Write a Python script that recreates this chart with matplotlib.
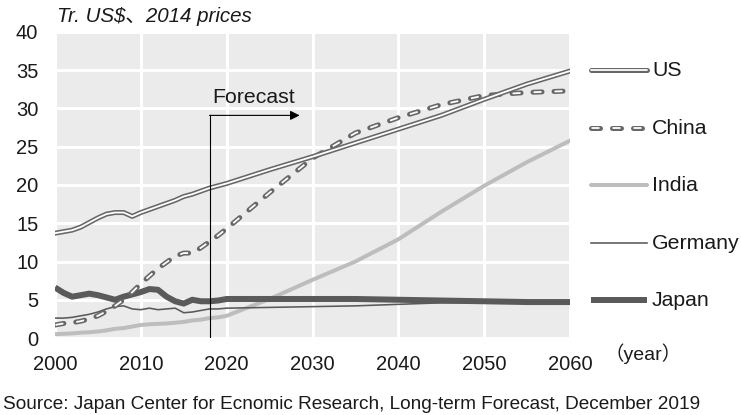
import matplotlib
matplotlib.use("Agg")
import matplotlib.pyplot as plt
from matplotlib.lines import Line2D

plt.rcParams['font.family'] = ['Liberation Sans', 'Noto Sans CJK JP', 'DejaVu Sans']
plt.rcParams['lines.scale_dashes'] = False

# ---- data (trillion US$, 2014 prices) ----
years = list(range(2000, 2021)) + [2025, 2030, 2035, 2040, 2045, 2050, 2055, 2060]

us = [13.7, 13.9, 14.1, 14.5, 15.1, 15.7, 16.2, 16.4, 16.4, 15.9, 16.4,
      16.8, 17.2, 17.6, 18.0, 18.5, 18.8, 19.2, 19.6, 19.9, 20.2,
      22.0, 23.7, 25.5, 27.3, 29.1, 31.2, 33.2, 34.9]
china = [1.7, 1.9, 2.0, 2.2, 2.5, 2.9, 3.5, 4.2, 5.0, 6.0, 7.1,
         8.1, 9.1, 9.9, 10.7, 11.1, 11.1, 11.8, 12.6, 13.4, 14.3,
         19.0, 23.5, 26.8, 28.8, 30.5, 31.7, 32.1, 32.3]
india = [0.5, 0.55, 0.6, 0.7, 0.75, 0.85, 1.0, 1.2, 1.3, 1.5, 1.7,
         1.8, 1.85, 1.9, 2.0, 2.1, 2.3, 2.4, 2.6, 2.7, 2.9,
         5.1, 7.6, 10.0, 12.9, 16.5, 19.9, 23.0, 25.8]
germany = [2.6, 2.6, 2.7, 2.9, 3.1, 3.4, 3.8, 4.1, 4.2, 3.8, 3.7,
           3.9, 3.7, 3.8, 3.9, 3.3, 3.4, 3.6, 3.8, 3.8, 3.9,
           4.0, 4.1, 4.2, 4.4, 4.6, 4.6, 4.6, 4.6]
japan = [6.6, 5.9, 5.4, 5.6, 5.8, 5.6, 5.3, 5.0, 5.4, 5.7, 6.0,
         6.4, 6.3, 5.4, 4.8, 4.5, 5.0, 4.8, 4.8, 4.9, 5.1,
         5.1, 5.1, 5.1, 5.0, 4.9, 4.8, 4.7, 4.7]

series_names = ['US', 'China', 'India', 'Germany', 'Japan']
x_ticks = [2000, 2010, 2020, 2030, 2040, 2050, 2060]
y_ticks = [0, 5, 10, 15, 20, 25, 30, 35, 40]
forecast_year = 2018
forecast_top = 29.1
forecast_arrow_end = 2028.5

W, H = 741, 415
PX = 0.72  # points per pixel at dpi 100

DARK = '#5a5a5a'
OUTLINE = '#676767'
LIGHT = '#bdbdbd'
TEXT = '#1a1a1a'

# style for each series: list of layers drawn in order
styles = {
    'US': [dict(color=OUTLINE, lw=5 * PX, solid_capstyle='round'),
           dict(color='white', lw=1.8 * PX, solid_capstyle='round')],
    'China': [dict(color=OUTLINE, lw=5 * PX, dash_capstyle='round',
                   linestyle=(0, (9 * PX, 12 * PX))),
              dict(color='white', lw=1.8 * PX, dash_capstyle='butt',
                   linestyle=(20.5 * PX, (8 * PX, 13 * PX)))],
    'India': [dict(color=LIGHT, lw=4 * PX, solid_capstyle='round')],
    'Germany': [dict(color=DARK, lw=1.6 * PX)],
    'Japan': [dict(color=DARK, lw=6 * PX, solid_capstyle='butt')],
}
values = {'US': us, 'China': china, 'India': india,
          'Germany': germany, 'Japan': japan}

fig = plt.figure(figsize=(W / 100, H / 100), dpi=100)
ax = fig.add_axes([55 / W, 1 - 338 / H, (570 - 55) / W, (338 - 32) / H])
ax.set_xlim(2000, 2060)
ax.set_ylim(0, 40)
ax.set_facecolor('#ebebeb')
for s in ax.spines.values():
    s.set_visible(False)
ax.set_xticks(x_ticks)
ax.set_yticks(y_ticks)
ax.tick_params(length=0, labelsize=14.5, colors=TEXT)
ax.tick_params(axis='x', pad=12)
ax.tick_params(axis='y', pad=12)
ax.grid(True, color='white', lw=3 * PX)
ax.set_axisbelow(True)

# drawing order: lighter/background series first
for z, name in enumerate(['India', 'Germany', 'Japan', 'China', 'US']):
    for k, st in enumerate(styles[name]):
        ax.plot(years, values[name], zorder=3 + z + 0.1 * k, **st)

# forecast marker
ax.plot([forecast_year, forecast_year], [0, forecast_top], color='black',
        lw=0.8, zorder=10)
ax.annotate('', xy=(forecast_arrow_end, forecast_top),
            xytext=(forecast_year, forecast_top),
            arrowprops=dict(arrowstyle='-|>', lw=0.8, color='black',
                            mutation_scale=14, shrinkA=0, shrinkB=0),
            zorder=10)
ax.text((forecast_year + forecast_arrow_end) / 2 - 0.1, 31.4, 'Forecast',
        ha='center', va='center', fontsize=15.3, color=TEXT)

# legend drawn at the right of the plot
leg_y = [70, 128, 185, 243, 300]
for name, ly in zip(series_names, leg_y):
    yf = 1 - ly / H
    for st in styles[name]:
        fig.add_artist(Line2D([591 / W, 647 / W], [yf, yf], **st))
    fig.text(652 / W, yf, name, ha='left', va='center', fontsize=15.3,
             color=TEXT)

fig.text(57 / W, 1 - 17 / H, r'Tr. US\$、2014 prices', style='italic',
         ha='left', va='center', fontsize=14.8, color=TEXT)
fig.text(604 / W, 1 - 354 / H, '（year）', ha='left', va='center',
         fontsize=14, color=TEXT)
fig.text(3 / W, 1 - 404 / H,
         'Source: Japan Center for Ecnomic Research, Long-term Forecast, December 2019',
         ha='left', va='center', fontsize=13.7, color=TEXT)

fig.savefig('out.png', dpi=100)
